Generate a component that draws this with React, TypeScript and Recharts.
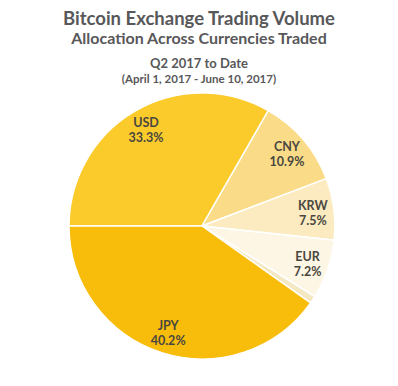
import React from "react";
import { PieChart, Pie, Cell } from "recharts";

// currency shares, clockwise from the left horizontal
const currencies = ["USD", "CNY", "KRW", "EUR", "Other", "JPY"];
const shares = [33.3, 10.9, 7.5, 7.2, 0.9, 40.2];
const sliceColors = ["#FBCB2C", "#FADC88", "#FCEBC0", "#FDF6E4", "#F4E8C2", "#F8BD0A"];

const titleLines = [
  "Bitcoin Exchange Trading Volume",
  "Allocation Across Currencies Traded",
  "Q2 2017 to Date",
  "(April 1, 2017 - June 10, 2017)",
];

const data = currencies.map((name, i) => ({ name, value: shares[i] }));

const RADIAN = Math.PI / 180;
const FONT = "Lato, 'Open Sans', sans-serif";

function renderLabel(props: any) {
  const { cx, cy, midAngle, outerRadius, name, value } = props;
  if (name === "Other") return null;
  const r = outerRadius * 0.84;
  const x = cx + r * Math.cos(-midAngle * RADIAN);
  const y = cy + r * Math.sin(-midAngle * RADIAN);
  return (
    <text
      x={x}
      y={y}
      textAnchor="middle"
      fill="#4a4740"
      fontFamily={FONT}
      fontWeight={700}
      fontSize={12.5}
    >
      <tspan x={x} dy={-2}>{name}</tspan>
      <tspan x={x} dy={15}>{value.toFixed(1)}%</tspan>
    </text>
  );
}

export default function App() {
  const titleStyle = (top: number, size: number): React.CSSProperties => ({
    position: "absolute",
    top,
    left: 0,
    width: 398,
    textAlign: "center",
    fontFamily: FONT,
    fontWeight: 700,
    fontSize: size,
    lineHeight: `${size + 2}px`,
    color: "#58585a",
    whiteSpace: "nowrap",
  });

  return (
    <div style={{ position: "absolute", left: 0, top: 0, width: 398, height: 386, background: "#fff" }}>
      <div style={titleStyle(8, 18.5)}>{titleLines[0]}</div>
      <div style={titleStyle(29, 16)}>{titleLines[1]}</div>
      <div style={titleStyle(56, 13)}>{titleLines[2]}</div>
      <div style={titleStyle(72, 11.5)}>{titleLines[3]}</div>
      <PieChart width={398} height={386} style={{ position: "absolute", left: 0, top: 0 }}>
        <Pie
          data={data}
          dataKey="value"
          nameKey="name"
          cx={197}
          cy={221}
          outerRadius={133}
          startAngle={180}
          endAngle={-180}
          stroke="#ffffff"
          strokeWidth={1.5}
          label={renderLabel}
          labelLine={false}
          isAnimationActive={false}
        >
          {data.map((d, i) => (
            <Cell key={d.name} fill={sliceColors[i]} />
          ))}
        </Pie>
      </PieChart>
    </div>
  );
}
